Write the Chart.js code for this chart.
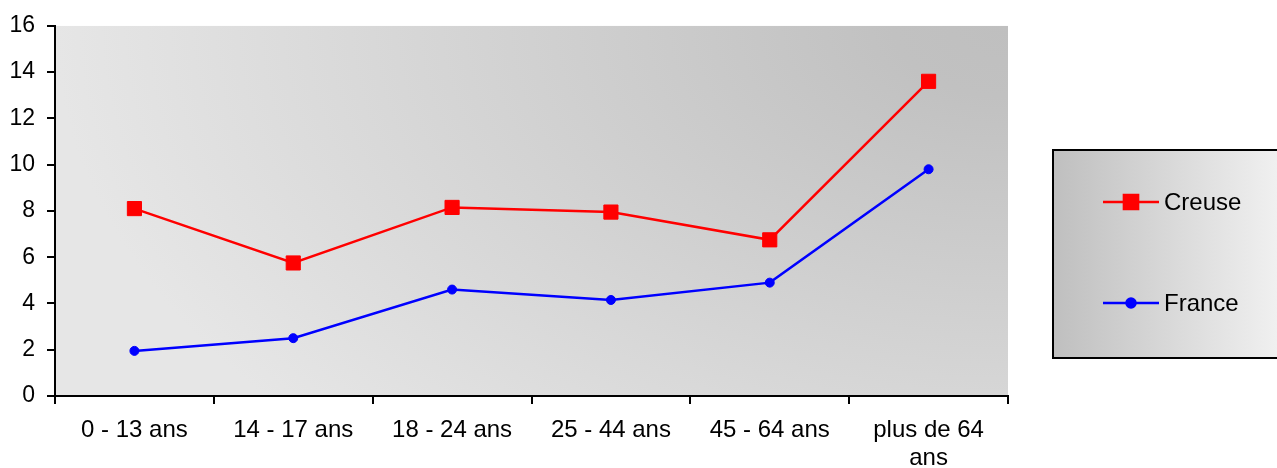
<!DOCTYPE html>
<html>
<head>
<meta charset="utf-8">
<script src="https://cdn.jsdelivr.net/npm/chart.js@4"></script>
<style>
  html, body { margin: 0; padding: 0; background: #ffffff; }
  #wrap { width: 1277px; height: 468px; position: relative; }
</style>
</head>
<body>
<div id="wrap"><canvas id="c" width="1277" height="468"></canvas></div>
<script>
// Age groups and rates per series
const categories = ['0 - 13 ans', '14 - 17 ans', '18 - 24 ans', '25 - 44 ans', '45 - 64 ans', ['plus de 64', 'ans']];
const creuse = [8.1, 5.75, 8.15, 7.95, 6.75, 13.6];
const france = [1.95, 2.5, 4.6, 4.15, 4.9, 9.8];
const yTicks = [0, 2, 4, 6, 8, 10, 12, 14, 16];

const FONT = "'Liberation Sans', Arial, sans-serif";

// Grey shading spreading from the top-right corner of the plot area
const plotBackground = {
  id: 'plotBackground',
  beforeDraw(chart) {
    const { ctx, chartArea: a } = chart;
    const W = a.right - a.left, H = a.bottom - a.top;
    const ky = 1.6;
    ctx.save();
    ctx.beginPath();
    ctx.rect(a.left, a.top, W, H);
    ctx.clip();
    ctx.translate(a.right, a.top);
    ctx.scale(W, H * ky);
    const g = ctx.createRadialGradient(0, 0, 0, 0, 0, 1);
    g.addColorStop(0, '#bfbfbf');
    g.addColorStop(0.12, '#c1c1c1');
    g.addColorStop(1, '#e6e6e6');
    ctx.fillStyle = g;
    ctx.fillRect(-1.01, 0, 1.02, 1 / ky + 0.01);
    ctx.restore();
  }
};

// Boxed legend on the right with a horizontal grey gradient
const boxLegend = {
  id: 'boxLegend',
  afterDraw(chart) {
    const ctx = chart.ctx;
    const x = 1053, y = 150, w = 230, h = 208;
    ctx.save();
    const g = ctx.createLinearGradient(x, 0, x + 224, 0);
    g.addColorStop(0, '#bfbfbf');
    g.addColorStop(1, '#f0f0f0');
    ctx.fillStyle = g;
    ctx.fillRect(x, y, w, h);
    ctx.strokeStyle = '#000000';
    ctx.lineWidth = 2;
    ctx.strokeRect(x, y, w, h);

    const rows = [202, 303];
    chart.data.datasets.forEach((ds, i) => {
      const cy = rows[i];
      ctx.strokeStyle = ds.borderColor;
      ctx.lineWidth = ds.borderWidth;
      ctx.beginPath();
      ctx.moveTo(1103, cy);
      ctx.lineTo(1159, cy);
      ctx.stroke();
      Chart.helpers.drawPoint(ctx, {
        pointStyle: ds.pointStyle,
        radius: ds.pointRadius,
        borderWidth: 1
      }, 1131, cy);
      ctx.fillStyle = ds.pointBackgroundColor;
      ctx.strokeStyle = ds.pointBorderColor;
      ctx.lineWidth = 1;
      ctx.fill();
      ctx.stroke();
      ctx.fillStyle = '#000000';
      ctx.font = '24px ' + FONT;
      ctx.textBaseline = 'middle';
      ctx.textAlign = 'left';
      ctx.fillText(ds.label, 1164, cy + 1);
    });
    ctx.restore();
  }
};

new Chart(document.getElementById('c'), {
  type: 'line',
  data: {
    labels: categories,
    datasets: [
      {
        label: 'Creuse',
        data: creuse,
        borderColor: '#ff0000',
        backgroundColor: '#ff0000',
        borderWidth: 2.5,
        pointStyle: 'rect',
        pointRadius: 10,
        pointBorderWidth: 1,
        pointBackgroundColor: '#ff0000',
        pointBorderColor: '#ff0000',
        tension: 0
      },
      {
        label: 'France',
        data: france,
        borderColor: '#0000ff',
        backgroundColor: '#0000ff',
        borderWidth: 2.5,
        pointStyle: 'circle',
        pointRadius: 4.5,
        pointBorderWidth: 1,
        pointBackgroundColor: '#0000ff',
        pointBorderColor: '#0000ff',
        tension: 0
      }
    ]
  },
  options: {
    responsive: false,
    animation: false,
    devicePixelRatio: 1,
    layout: { padding: { top: 25, right: 269, bottom: 0, left: 0 } },
    plugins: {
      legend: { display: false },
      tooltip: { enabled: false }
    },
    scales: {
      x: {
        type: 'category',
        offset: true,
        grid: {
          offset: true,
          drawOnChartArea: false,
          drawTicks: true,
          tickLength: 8,
          color: '#000000',
          lineWidth: 2
        },
        border: { display: true, color: '#000000', width: 2 },
        ticks: {
          color: '#000000',
          font: { family: FONT, size: 24, lineHeight: 1.17 },
          padding: 12,
          maxRotation: 0,
          autoSkip: false
        },
        afterFit(scale) { scale.height = 72; }
      },
      y: {
        min: 0,
        max: 16,
        afterBuildTicks(scale) { scale.ticks = yTicks.map(v => ({ value: v })); },
        grid: {
          drawOnChartArea: false,
          drawTicks: true,
          tickLength: 8,
          color: '#000000',
          lineWidth: 2
        },
        border: { display: true, color: '#000000', width: 2 },
        ticks: {
          color: '#000000',
          font: { family: FONT, size: 23 },
          padding: 12
        },
        afterFit(scale) { scale.width = 55; }
      }
    }
  },
  plugins: [plotBackground, boxLegend]
});
</script>
</body>
</html>
